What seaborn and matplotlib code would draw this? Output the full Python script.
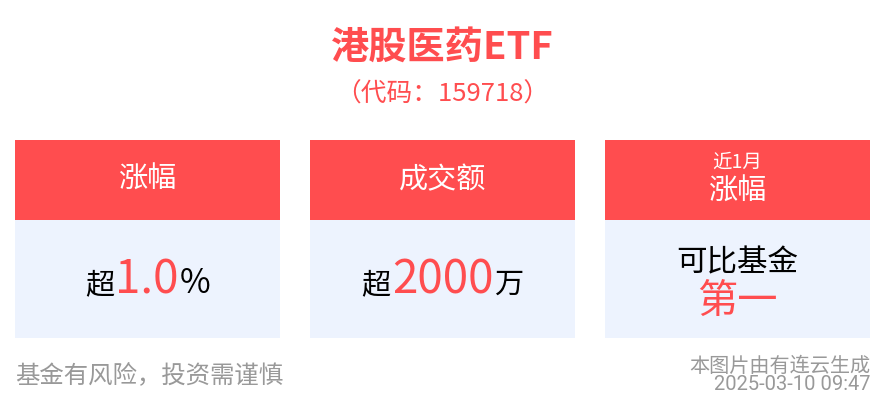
import matplotlib
matplotlib.use("Agg")
import matplotlib.pyplot as plt
import seaborn as sns

sns.set_theme(style="white")
plt.rcParams["font.family"] = ["Noto Sans CJK SC", "DejaVu Sans"]

RED = "#ff4d4f"
BODY = "#edf3fe"
GRAY = "#999999"

title = "港股医药ETF"
subtitle = "（代码：159718）"
card_heads = [["涨幅"], ["成交额"], ["近1月", "涨幅"]]
# each value row: list of (text, is_highlight)
card_values = [
    [[("超", False), ("1.0", True), ("%", False)]],
    [[("超", False), ("2000", True), ("万", False)]],
    [[("可比基金", False)], [("第一", True)]],
]
disclaimer = "基金有风险，投资需谨慎"
source = "本图片由有连云生成"
stamp = "2025-03-10 09:47"

W, H = 884, 404
fig = plt.figure(figsize=(W / 100, H / 100), dpi=100)
ax = fig.add_axes([0, 0, 1, 1])
ax.set_xlim(0, W)
ax.set_ylim(H, 0)
ax.axis("off")

card_left = [15, 310, 605]
card_w = 265
head_top, head_bot, body_bot = 140, 220, 338

# card backgrounds as bars
centers = [l + card_w / 2 for l in card_left]
ax.bar(centers, [body_bot - head_bot] * 3, width=card_w, bottom=head_bot,
       color=BODY, linewidth=0)
ax.bar(centers, [head_bot - head_top] * 3, width=card_w, bottom=head_top,
       color=RED, linewidth=0)

ax.text(W / 2, 47, title, ha="center", va="center", fontsize=27.5,
        color=RED, fontweight="bold")
ax.text(W / 2, 95, subtitle, ha="center", va="center", fontsize=18.5,
        color=RED, fontweight="medium")

# headers
for cx, lines in zip(centers, card_heads):
    if len(lines) == 1:
        ax.text(cx, 180, lines[0], ha="center", va="center", fontsize=21,
                color="white")
    else:
        ax.text(cx, 162, lines[0], ha="center", va="center", fontsize=14,
                color="white")
        ax.text(cx, 192, lines[1], ha="center", va="center", fontsize=21,
                color="white")

fig.canvas.draw()
renderer = fig.canvas.get_renderer()


def segment_row(cx, y, segs, sizes, gap=1):
    # draw pieces one after another, then shift so the row is centred
    items = []
    x = 0
    for i, (txt, hi) in enumerate(segs):
        size = sizes[1] if hi else sizes[0]
        if txt == "%":
            size = sizes[0] + 3
        t = ax.text(0, y, txt, ha="left", va="baseline", fontsize=size,
                    color=RED if hi else "black",
                    fontweight="light" if hi else "normal")
        bb = t.get_window_extent(renderer)
        items.append((t, x))
        x += bb.width + (gap if i < len(segs) - 1 else 0)
    start = cx - x / 2
    for t, off in items:
        t.set_x(start + off)


segment_row(centers[0], 293, card_values[0][0], (21, 33))
segment_row(centers[1], 293, card_values[1][0], (21, 33))
segment_row(centers[2], 271, card_values[2][0], (22, 22))
segment_row(centers[2], 313, card_values[2][1], (22, 29))

ax.text(15, 375, disclaimer, ha="left", va="center", fontsize=17.6, color=GRAY)
ax.text(870, 375, source + "\n" + stamp, ha="right", va="center",
        multialignment="right", fontsize=14.5, color=GRAY, linespacing=0.95,
        family=["Roboto", "Noto Sans CJK SC"])

fig.savefig("out.png", dpi=100)
